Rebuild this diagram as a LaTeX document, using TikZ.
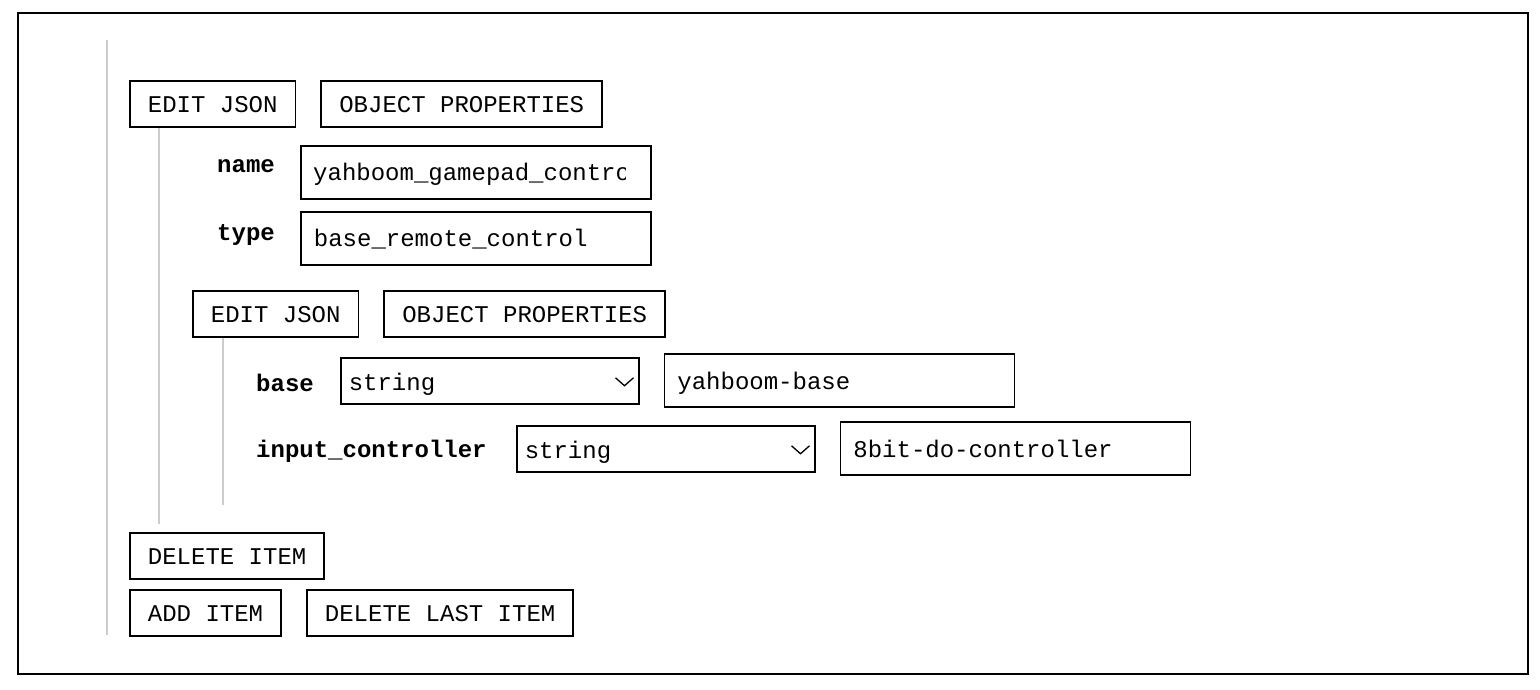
\documentclass[tikz,border=0pt]{standalone}
\usepackage{fontspec}
\usetikzlibrary{positioning}
\newfontfamily\monofam{Liberation Mono}
\newcommand{\uifont}{\monofam\fontsize{24pt}{28pt}\selectfont}

\begin{document}
\begin{tikzpicture}[
      x=1pt, y=-1pt,
      btn/.style={
        draw, line width=1.8pt, font=\uifont, inner xsep=18pt, inner ysep=0pt,
        minimum height=46pt, text height=17pt, text depth=0pt
      },
      field/.style={
        draw, line width=1.8pt, font=\uifont, text width=324pt, align=left,
        inner xsep=13pt, inner ysep=0pt, minimum height=53pt, text height=17pt, text depth=0pt
      },
      sel/.style={
        draw, line width=1.5pt, font=\uifont, text width=282pt, align=left,
        inner xsep=8pt, inner ysep=0pt, minimum height=46pt, text height=20pt, text depth=0pt
      },
      key/.style={font=\uifont\bfseries, anchor=base west, inner sep=0pt},
      val/.style={font=\uifont, anchor=base west, inner sep=0pt},
      rail/.style={draw=black!20, line width=2pt},
      chev/.style={line width=1.3pt}
      ]

      \useasboundingbox (0,0) rectangle (1540,690);
      \draw[line width=2pt] (18,13) rectangle (1528,674);

      % outer item
      \node[btn, anchor=north west] (e1) at (129,80) {EDIT JSON};
      \node[btn, right=24pt of e1]  (o1) {OBJECT PROPERTIES};
      \node[field, anchor=north west] (nf) at (300,145) {};
      \node[field, below=11pt of nf]  (tf) {base\_remote\_control};
      \node[key] (nk) at (217,173) {name};
      \node[key] (tk) at (217,240) {type};

      \begin{scope}
        \clip (nf.north west) rectangle ([xshift=-26pt]nf.south east);
        \node[val] (nv) at ([xshift=13pt, yshift=-8.5pt]nf.west) {yahboom\_gamepad\_controller};
      \end{scope}

      % nested object
      \node[btn, anchor=north west] (e2) at (192,290) {EDIT JSON};
      \node[btn, right=24pt of e2]  (o2) {OBJECT PROPERTIES};
      \node[sel, anchor=north west] (s1) at (340,357) {string};
      \node[field, right=24pt of s1] (v1) {yahboom-base};
      \node[sel, anchor=north west] (s2) at (516,425) {string};
      \node[field, right=24pt of s2] (v2) {8bit-do-controller};
      \node[key] (bk) at (256,391) {base};
      \node[key] (ik) at (256,457) {input\_controller};

      \draw[chev] ([shift={(-24,-3)}]s1.east) -- ++(9,8) -- ++(9,-8);
      \draw[chev] ([shift={(-24,-3)}]s2.east) -- ++(9,8) -- ++(9,-8);

      % item buttons
      \node[btn, anchor=north west] (d1) at (129,532) {DELETE ITEM};
      \node[btn, below right=9pt and 0pt of d1.south west] (a1) {ADD ITEM};
      \node[btn, right=24pt of a1] (d2) {DELETE LAST ITEM};

      % rails
      \draw[rail] (107,40) -- (107,635);
      \draw[rail] ([xshift=30pt]e1.south west) -- ++(0,396);
      \draw[rail] ([xshift=31pt]e2.south west) -- ++(0,167);

\end{tikzpicture}
\end{document}
